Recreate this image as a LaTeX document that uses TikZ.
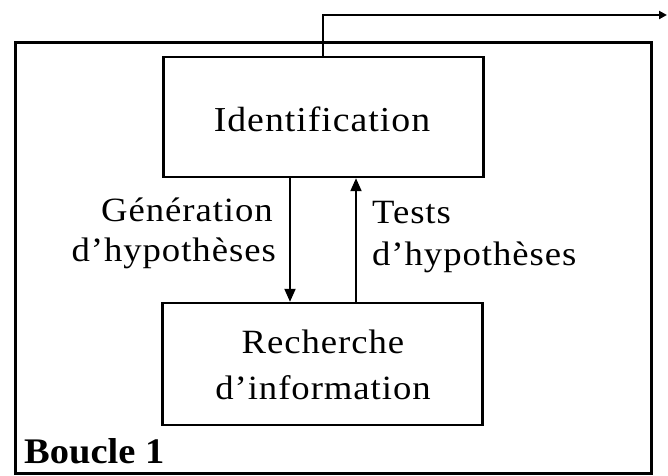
\documentclass[tikz,border=0pt]{standalone}
\usepackage{fontspec}
\setmainfont{Liberation Serif}[FakeStretch=1.08,LetterSpace=2.8]
\newfontfamily\boldframe{Liberation Serif Bold}[FakeStretch=1.07]
\usetikzlibrary{arrows.meta}
\begin{document}
\begin{tikzpicture}[x=1pt,y=-1pt,
  box/.style={draw, line width=2.4pt, minimum width=320pt, inner sep=0pt},
  flow/.style={line width=2pt, -{Triangle[length=13pt,width=11pt]}},
  txt/.style={font=\fontsize{34}{40}\selectfont, inner sep=0pt}]
\useasboundingbox (0,0) rectangle (668,475);
\fill[white] (0,0) rectangle (668,475);
% outer loop frame
\draw[line width=3pt] (15,473) -- (15,42) -- (651,42) -- (651,473) -- cycle;
% the two stages
\node[box, minimum height=120pt] (ident) at (323.5,117) {};
\node[box, minimum height=122pt] (rech) at (322.5,364) {};
\node[txt, font=\fontsize{35}{40}\selectfont, anchor=base] (identtxt) at (322,131) {Identification};
\node[txt, anchor=base] (rechtxt1) at (323,353) {Recherche};
\node[txt, anchor=base] (rechtxt2) at (323,399) {d'information};
% loop connectors
\draw[flow] (ident.south -| 290,0) -- (rech.north -| 290,0);
\draw[flow] (rech.north -| 356,0) -- (ident.south -| 356,0);
\coordinate (out) at (667,15);
\draw[line width=2pt, -{Triangle[length=8pt,width=8pt]}] (ident.north -| 323,0) |- (out);
% connector labels
\node[txt, anchor=base east] (gen1) at (273,221) {Génération};
\node[txt, anchor=base east] (gen2) at (276,261) {d'hypothèses};
\node[txt, anchor=base west] (test1) at (372,223) {Tests};
\node[txt, anchor=base west] (test2) at (372,265) {d'hypothèses};
% frame label
\node[font=\boldframe\fontsize{36}{40}\selectfont, anchor=base west, inner sep=0pt] (loop) at (24,463) {Boucle 1};
\end{tikzpicture}
\end{document}
